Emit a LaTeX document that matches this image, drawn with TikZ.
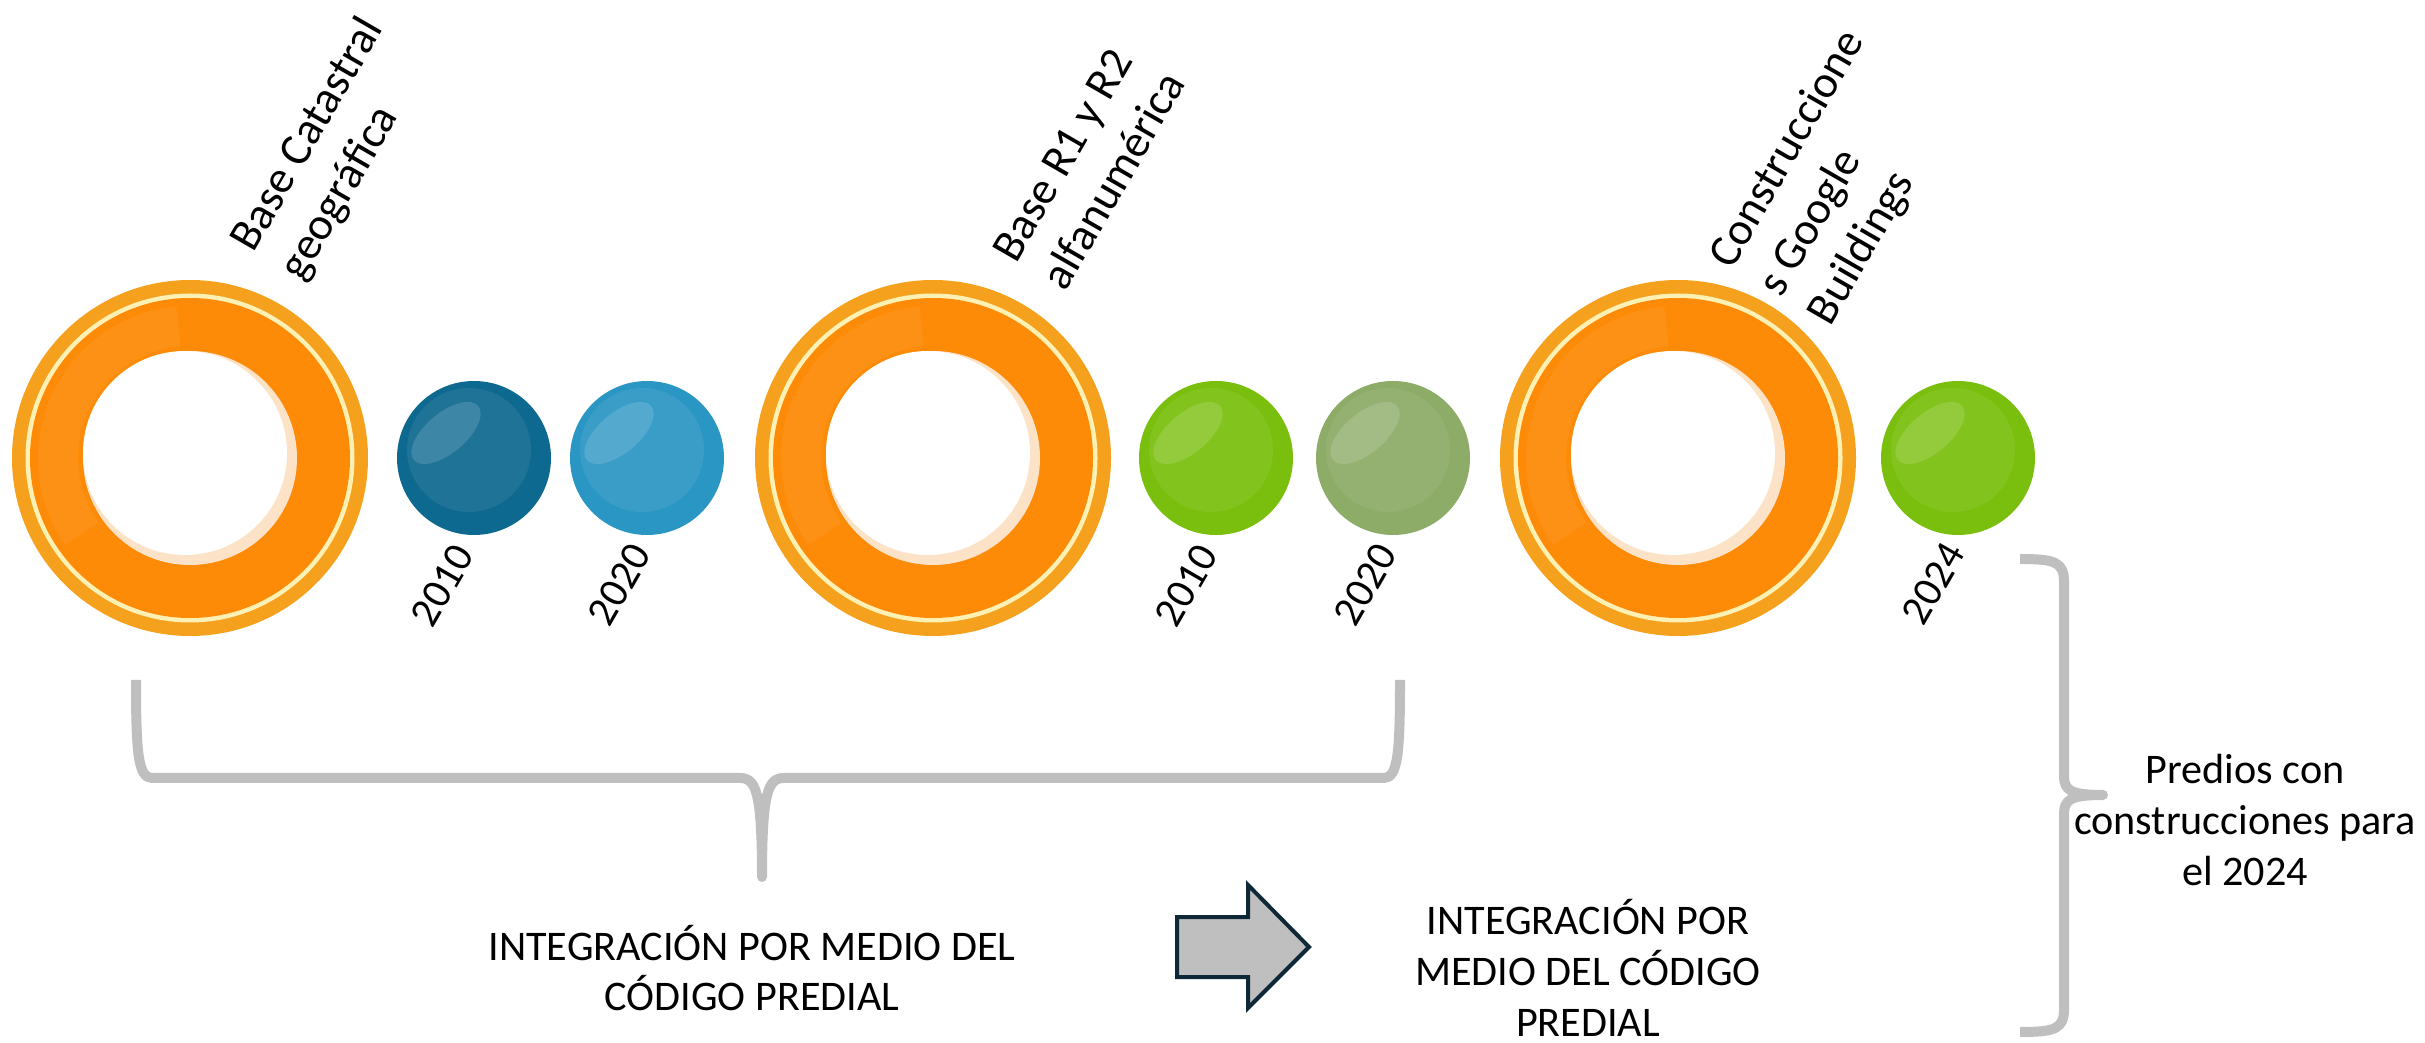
\documentclass[tikz,border=0pt]{standalone}
\usepackage{fontspec}
\setmainfont{Carlito}
\usetikzlibrary{calc}

\definecolor{naranjaext}{HTML}{F6A11E}
\definecolor{naranjaint}{HTML}{FD8B07}
\definecolor{lineaclara}{HTML}{FFF0B4}
\definecolor{melocoton}{HTML}{FCE2C6}
\definecolor{azuluno}{HTML}{0E6990}
\definecolor{azuldos}{HTML}{2A96C3}
\definecolor{verdeuno}{HTML}{7ABF0D}
\definecolor{verdedos}{HTML}{8CAC67}
\definecolor{gris}{HTML}{BFBFBF}
\definecolor{marino}{HTML}{0E2838}

\def\anillo(#1){%
	\fill[naranjaext] (#1) circle (1.78);
	\fill[lineaclara] (#1) circle (1.645);
	\fill[naranjaint] (#1) circle (1.60);
	\draw[line width=4mm, color=white, opacity=0.06] ($(#1)+(95:1.32)$) arc (95:215:1.32);
	\fill[melocoton] (#1) circle (1.07);
	\fill[white] ($(#1)+(-0.05,0.05)$) circle (1.02);
}
\def\brillo(#1){%
	\fill[white, opacity=0.07] ($(#1)+(-0.05,0.08)$) circle (0.62);
	\fill[white, opacity=0.14, shift={(#1)}, shift={(-0.28,0.25)}, rotate=40] (0,0) ellipse (0.42 and 0.2);
}

\tikzset{
	bola/.style={circle, minimum size=1.54cm, inner sep=0pt},
	anio/.style={rotate=60, anchor=east, inner sep=0pt, font=\fontsize{12}{14.6}\selectfont},
	titulo/.style={rotate=60, anchor=south west, align=left, inner sep=0pt, font=\fontsize{13}{16.2}\selectfont},
	texto/.style={align=center, inner sep=0pt, font=\fontsize{12}{14.4}\selectfont},
	llave/.style={line width=1mm, color=gris, line join=round},
}

\begin{document}
\begin{tikzpicture}
	%%%%% START %%%%%
	\useasboundingbox (0,0) rectangle (24.25,10.42);
	
	\coordinate (r1) at (1.90,5.84);
	\coordinate (r2) at (9.33,5.84);
	\coordinate (r3) at (16.78,5.84);
	\anillo(r1)
	\anillo(r2)
	\anillo(r3)
	
	\node[bola, fill=azuluno] (b1) at (4.74,5.84) {};
	\node[bola, fill=azuldos] (b2) at (6.47,5.84) {};
	\node[bola, fill=verdeuno] (b3) at (12.16,5.84) {};
	\node[bola, fill=verdedos] (b4) at (13.93,5.84) {};
	\node[bola, fill=verdeuno] (b5) at (19.58,5.84) {};
	\brillo(b1)
	\brillo(b2)
	\brillo(b3)
	\brillo(b4)
	\brillo(b5)
	
	\node[anio] (a1) at ([xshift=-1mm, yshift=-1.2mm]b1.south) {2010};
	\node[anio] (a2) at ([xshift=-0.6mm, yshift=-1.1mm]b2.south) {2020};
	\node[anio] (a3) at ([xshift=-0.8mm, yshift=-1.2mm]b3.south) {2010};
	\node[anio] (a4) at ([xshift=-0.6mm, yshift=-1.1mm]b4.south) {2020};
	\node[anio] (a5) at ([xshift=-0.3mm, yshift=-1.0mm]b5.south) {2024};
	
	\node[titulo] (t1) at (3.10,7.55) {Base Catastral\\geográfica};
	\node[titulo] (t2) at (10.66,7.48) {Base R1 y R2\\alfanumérica};
	\node[titulo] (t3) at (18.38,7.10) {Construccione\\s Google\\Buildings};
	
	% llave de abajo
	\draw[llave] (1.36,3.62) .. controls (1.36,2.90) and (1.38,2.64) .. (1.52,2.64) -- (7.40,2.64)
		.. controls (7.56,2.64) and (7.62,2.50) .. (7.62,1.65)
		.. controls (7.62,2.50) and (7.68,2.64) .. (7.84,2.64) -- (13.84,2.64)
		.. controls (13.98,2.64) and (14.00,2.90) .. (14.00,3.62);
	
	% llave derecha
	\draw[llave] (20.20,4.83) .. controls (20.55,4.83) and (20.64,4.80) .. (20.64,4.60) -- (20.64,2.66)
		.. controls (20.64,2.52) and (20.70,2.47) .. (21.03,2.47)
		.. controls (20.70,2.47) and (20.64,2.42) .. (20.64,2.28) -- (20.64,0.33)
		.. controls (20.64,0.13) and (20.55,0.10) .. (20.20,0.10);
	
	\node[texto] (i1) at (7.52,0.74) {INTEGRACIÓN POR MEDIO DEL\\CÓDIGO PREDIAL};
	
	\draw[line width=0.4mm, color=marino, fill=gris] (11.77,1.25) -- (12.48,1.25) -- (12.48,1.57) -- (13.09,0.95)
		-- (12.48,0.34) -- (12.48,0.65) -- (11.77,0.65) -- cycle;
	
	\node[texto] (i2) at (15.88,0.74) {INTEGRACIÓN POR\\MEDIO DEL CÓDIGO\\PREDIAL};
	\node[texto] (p1) at (22.45,2.22) {Predios con\\construcciones para\\el 2024};
	
	%%%%% END %%%%%
\end{tikzpicture}
\end{document}
